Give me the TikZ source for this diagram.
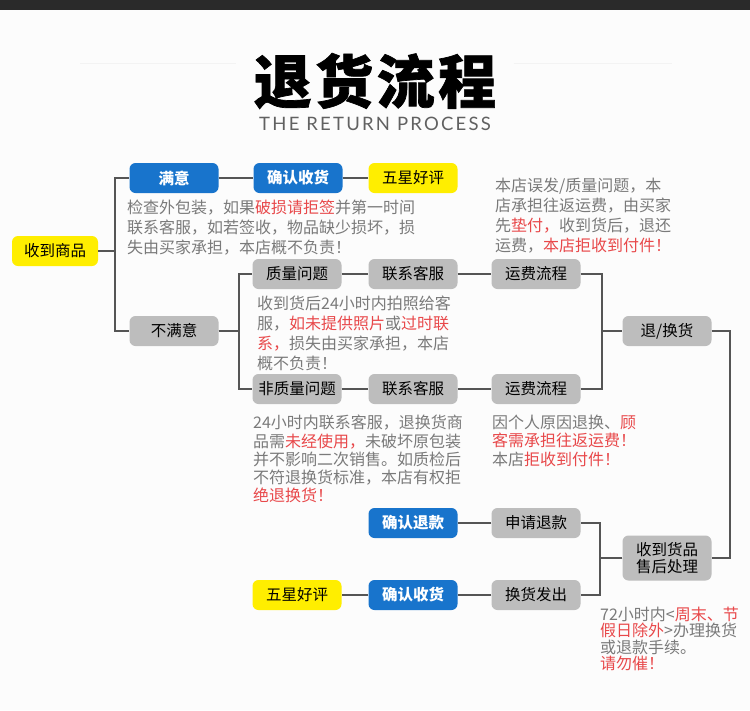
\documentclass[tikz,border=0pt]{standalone}
\usepackage{fontspec}
\setmainfont{Noto Sans CJK SC}
\newfontfamily\titlefont{Noto Sans CJK SC}[LetterSpace=6,BoldFeatures={FakeBold=1.2}]
\newfontfamily\subfont{Lato}[LetterSpace=12]
\usepackage{tikz}
\usetikzlibrary{positioning}

\definecolor{boxblue}{RGB}{24,116,204}
\definecolor{boxyellow}{RGB}{255,238,0}
\definecolor{boxgray}{RGB}{189,189,189}
\definecolor{linegray}{RGB}{85,85,85}
\definecolor{notegray}{RGB}{122,122,122}
\definecolor{notered}{RGB}{232,72,74}
\definecolor{topbar}{RGB}{42,42,42}
\definecolor{pagebg}{RGB}{252,252,252}
\definecolor{faintline}{RGB}{243,243,243}
\newcommand{\redtxt}[1]{\textcolor{notered}{#1}}

\begin{document}
\begin{tikzpicture}[
  x=1pt, y=-1pt,
  box/.style={rounded corners=6pt,minimum width=89pt,minimum height=30pt,inner sep=0pt,font=\fontsize{15.5}{18}\selectfont},
  graybox/.style={box,fill=boxgray},
  bluebox/.style={box,fill=boxblue,text=white,font=\fontsize{15.5}{18}\selectfont\bfseries},
  yellowbox/.style={box,fill=boxyellow},
  note/.style={anchor=north west,inner sep=0pt,align=left,text=notegray,font=\fontsize{16}{20}\selectfont},
  link/.style={draw=linegray,line width=2pt}
]
  \fill[pagebg] (0,0) rectangle (750,710);
  \fill[topbar] (0,0) rectangle (750,10);

  \node (title) at (375,81) {\titlefont\fontsize{58}{60}\selectfont\bfseries 退货流程};
  \node[text=black!62] (subtitle) at (375,124) {\subfont\fontsize{18.5}{20}\selectfont THE RETURN PROCESS};
  \coordinate (ruleL) at (80,63);
  \coordinate (ruleR) at (672,63);
  \draw[faintline,line width=1pt,shorten >=14pt] (ruleL) -- (title.west |- ruleL);
  \draw[faintline,line width=1pt,shorten <=14pt] (title.east |- ruleR) -- (ruleR);

  \node[yellowbox,minimum width=86pt] (recv) at (55,251) {收到商品};
  \node[bluebox]   (sat)      at (174,178) {满意};
  \node[bluebox]   (confirmA) at (298,178) {确认收货};
  \node[yellowbox] (starA)    at (413,178) {五星好评};
  \node[graybox]   (unsat)    at (174,331) {不满意};
  \node[graybox]   (quality)  at (297,274) {质量问题};
  \node[graybox]   (contactA) at (413,274) {联系客服};
  \node[graybox]   (feeA)     at (536,274) {运费流程};
  \node[graybox]   (nonquality) at (297,389) {非质量问题};
  \node[graybox]   (contactB) at (413,389) {联系客服};
  \node[graybox]   (feeB)     at (536,389) {运费流程};
  \node[graybox]   (exch)     at (667,331) {退/换货};
  \node[bluebox]   (refundOK) at (413,523) {确认退款};
  \node[graybox]   (applyRefund) at (536,523) {申请退款};
  \node[graybox,minimum height=45pt,align=center,font=\fontsize{15.5}{17}\selectfont] (afterSale) at (667,558) {收到货品\\售后处理};
  \node[yellowbox] (starB)    at (297,595) {五星好评};
  \node[bluebox]   (confirmB) at (413,595) {确认收货};
  \node[graybox]   (shipOut)  at (536,595) {换货发出};

  \node[note] (noteA) at (127,200) {检查外包装，如果\redtxt{破损请拒签}并第一时间\\联系客服，如若签收，物品缺少损坏，损\\失由买家承担，本店概不负责！};
  \node[note] (noteB) at (495,178) {本店误发/质量问题，本\\店承担往返运费，由买家\\先\redtxt{垫付，}收到货后，退还\\运费，\redtxt{本店拒收到付件！}};
  \node[note] (noteC) at (257,296) {收到货后24小时内拍照给客\\服，\redtxt{如未提供照片}或\redtxt{过时联}\\\redtxt{系，}损失由买家承担，本店\\概不负责！};
  \node[note,font=\fontsize{16}{18.3}\selectfont] (noteD) at (253,415) {24小时内联系客服，退换货商\\品需\redtxt{未经使用，}未破坏原包装\\并不影响二次销售。如质检后\\不符退换货标准，本店有权拒\\\redtxt{绝退换货！}};
  \node[note,font=\fontsize{16}{18.3}\selectfont] (noteE) at (492,415) {因个人原因退换、\redtxt{顾}\\\redtxt{客需承担往返运费！}\\本店\redtxt{拒收到付件！}};
  \node[note,font=\fontsize{16}{16.2}\selectfont] (noteF) at (600,607) {72小时内<\redtxt{周末、节}\\\redtxt{假日除外}>办理换货\\或退款手续。\\\redtxt{请勿催！}};

  \draw[link] (recv.east) -- ++(17,0) |- (sat.west);
  \draw[link] (recv.east) -- ++(17,0) |- (unsat.west);
  \draw[link] (sat) -- (confirmA) -- (starA);
  \draw[link] (unsat.east) -- ++(20,0) |- (quality.west);
  \draw[link] (unsat.east) -- ++(20,0) |- (nonquality.west);
  \draw[link] (quality) -- (contactA) -- (feeA);
  \draw[link] (nonquality) -- (contactB) -- (feeB);
  \draw[link] (feeA.east) -- ++(21,0) |- (exch.west);
  \draw[link] (feeB.east) -- ++(21,0) |- (exch.west);
  \draw[link] (exch.east) -- ++(18,0) |- (afterSale.east);
  \draw[link] (afterSale.west) -- ++(-22,0) |- (applyRefund.east);
  \draw[link] (afterSale.west) -- ++(-22,0) |- (shipOut.east);
  \draw[link] (applyRefund) -- (refundOK);
  \draw[link] (shipOut) -- (confirmB) -- (starB);
\end{tikzpicture}
\end{document}
